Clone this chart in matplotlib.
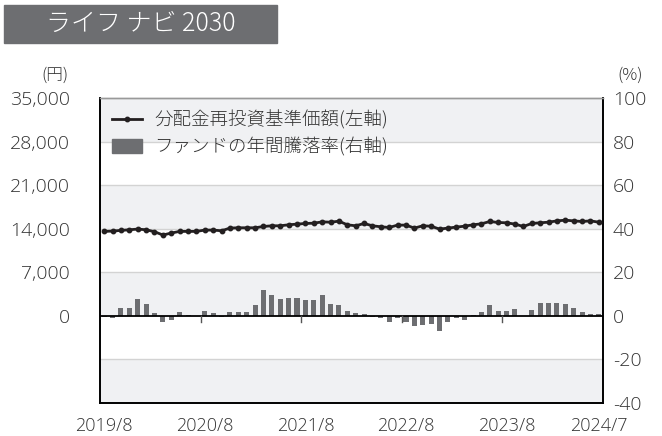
import matplotlib
matplotlib.use("Agg")
import matplotlib.pyplot as plt
from matplotlib.lines import Line2D
from matplotlib.patches import Patch, Rectangle

plt.rcParams['font.family'] = ['Noto Sans CJK JP', 'DejaVu Sans']

# ---- data ----
title = "ライフ ナビ 2030"
x_labels = ["2019/8", "2020/8", "2021/8", "2022/8", "2023/8", "2024/7"]
x_label_idx = [0, 12, 24, 36, 48, 59]
nav = [13570, 13620, 13730, 13830, 13940, 13830, 13515, 12990, 13300, 13570,
       13570, 13570, 13780, 13780, 13670, 14100, 14150, 14150, 14150, 14360,
       14470, 14470, 14630, 14740, 14840, 14890, 15100, 15050, 15210, 14630,
       14470, 14840, 14470, 14310, 14200, 14580, 14580, 14100, 14470, 14400,
       13940, 14100, 14260, 14410, 14630, 14790, 15160, 15000, 14950, 14740,
       14360, 14840, 14950, 15050, 15260, 15370, 15260, 15160, 15260, 15050]
ret = [-0.5, -1.0, 3.5, 3.5, 7.7, 5.5, 1.5, -2.9, -1.7, 1.8,
       0.6, 0.0, 2.1, 1.4, -0.3, 2.0, 2.0, 2.0, 5.2, 11.8,
       9.5, 7.8, 8.4, 8.4, 7.2, 7.5, 9.5, 5.4, 5.1, 2.3,
       1.2, 0.9, -0.5, -1.0, -3.0, -1.0, -2.6, -4.7, -4.0, -3.8,
       -6.9, -3.0, -1.2, -2.0, 0.2, 1.7, 4.9, 2.3, 2.1, 3.2,
       0.0, 2.9, 5.8, 5.8, 6.1, 5.4, 3.8, 1.8, 0.9, 0.7]
left_ticks = [0, 7000, 14000, 21000, 28000, 35000]
right_ticks = [-40, -20, 0, 20, 40, 60, 80, 100]
legend_line = "分配金再投資基準価額(左軸)"
legend_bar = "ファンドの年間騰落率(右軸)"

TXT = '#333333'
BAR = '#6d6e71'
BAND = '#f0f1f3'
NUMFONT = ['Open Sans', 'DejaVu Sans']
JPFONT = ['Noto Sans CJK JP', 'DejaVu Sans']

fig = plt.figure(figsize=(6.62, 4.36), dpi=100)
ax = fig.add_axes([100/662, 1-403/436, 503/662, 305/436])
ax2 = ax.twinx()

n = len(nav)
xs = list(range(n))
ax.set_xlim(-0.5, n - 0.5)
ax.set_ylim(-40, 100)
ax2.set_ylim(-14000, 35000)

# bands and grid
for lo in [80, 40, 0, -40]:
    ax.axhspan(lo, lo + 20, color=BAND, zorder=0, lw=0)
for g in [-20, 20, 40, 60, 80]:
    ax.axhline(g, color='#d3d3d3', lw=1, zorder=0.5)

ax.bar(xs, ret, width=0.6, color=BAR, zorder=2)
ax.axhline(0, color='black', lw=1.3, zorder=3)
for b in [11.5, 23.5, 35.5, 47.5]:
    ax.plot([b, b], [0, -2.8], color='#555555', lw=1, zorder=3)

ax2.plot(xs, nav, color='#231f20', lw=2, marker='o', markersize=3.2, zorder=4)

# axes styling
ax.set_xticks(x_label_idx)
ax.set_xticklabels(x_labels, fontfamily=NUMFONT, fontweight='light')
ax.tick_params(axis='x', length=0, pad=10, labelsize=13, colors=TXT)
ax.yaxis.tick_right()
ax.set_yticks(right_ticks)
ax.set_yticklabels([str(v) for v in right_ticks], fontfamily=NUMFONT, fontweight='light')
ax.tick_params(axis='y', length=0, pad=7, labelsize=14, colors=TXT)
ax2.yaxis.tick_left()
ax2.set_yticks(left_ticks)
ax2.set_yticklabels([f"{v:,}" for v in left_ticks], fontfamily=NUMFONT, fontweight='light')
ax2.tick_params(axis='y', length=0, pad=21.5, labelsize=14, colors=TXT)
for a in (ax, ax2):
    for s in ['left', 'right', 'bottom']:
        a.spines[s].set_color('black')
        a.spines[s].set_linewidth(1.2)
    a.spines['top'].set_color('#999999')
    a.spines['top'].set_linewidth(1)

handles = [Line2D([0], [0], color='#231f20', lw=2, marker='o', markersize=3.2),
           Patch(color=BAR)]
leg = ax2.legend(handles, [legend_line, legend_bar], loc='upper left',
                 bbox_to_anchor=(0.0, 1.0), frameon=False,
                 prop={'family': JPFONT, 'size': 13.3, 'weight': 'light'},
                 handlelength=1.6, handleheight=0.8, handletextpad=0.7,
                 labelspacing=0.42, borderaxespad=0.25)
for t in leg.get_texts():
    t.set_color(TXT)

# title box
fig.patches.append(Rectangle((4/662, 1-43/436), 273/662, 38/436,
                             transform=fig.transFigure, color=BAR, zorder=0))
fig.text(141/662, 1-24/436, title, color='white', fontsize=18, fontweight='light',
         family=JPFONT, ha='center', va='center')
fig.text(55/662, 1-75/436, "(円)", color=TXT, fontsize=12, fontweight='light',
         family=JPFONT, ha='center', va='center')
fig.text(630/662, 1-75/436, "(%)", color=TXT, fontsize=12, fontweight='light',
         family=JPFONT, ha='center', va='center')

fig.savefig("out.png", dpi=100)
